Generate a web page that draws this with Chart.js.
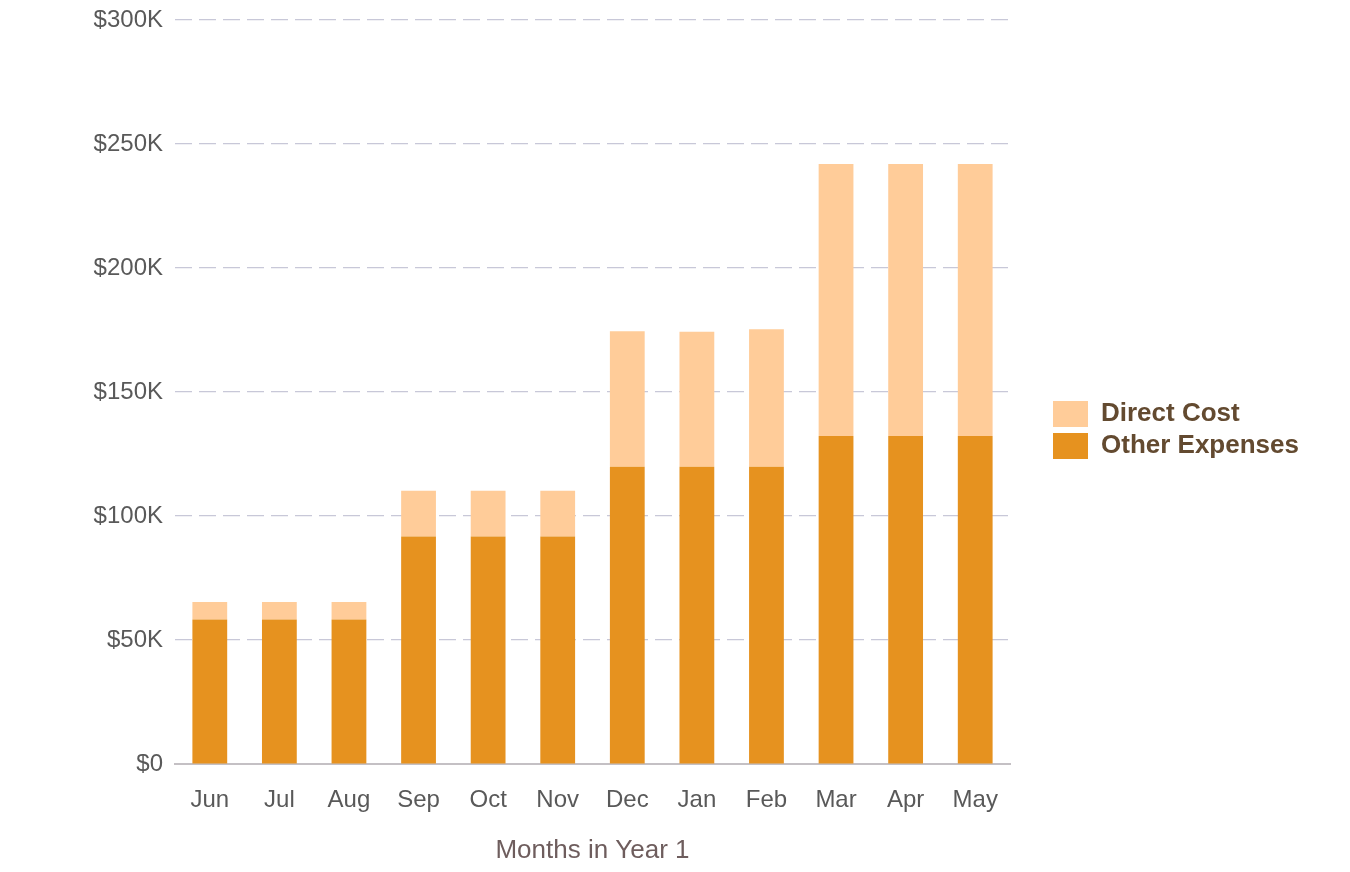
<!DOCTYPE html>
<html>
<head>
<meta charset="utf-8">
<script src="https://cdn.jsdelivr.net/npm/chart.js@4.4.1/dist/chart.umd.min.js"></script>
<style>
  html, body { margin: 0; padding: 0; background: #ffffff; }
  #wrap { width: 1350px; height: 872px; position: relative; }
</style>
</head>
<body>
<div id="wrap"><canvas id="c" width="1350" height="872"></canvas></div>
<script>
const months = ['Jun', 'Jul', 'Aug', 'Sep', 'Oct', 'Nov', 'Dec', 'Jan', 'Feb', 'Mar', 'Apr', 'May'];
const otherExpenses = [58300, 58300, 58300, 91700, 91700, 91700, 119900, 119900, 119900, 132300, 132300, 132300];
const directCost = [7000, 7000, 7000, 18500, 18500, 18500, 54600, 54400, 55400, 109600, 109600, 109600];
const yTickValues = [0, 50000, 100000, 150000, 200000, 250000, 300000];
const xAxisTitle = 'Months in Year 1';

const legendPlacement = {
  id: 'legendPlacement',
  beforeLayout(chart) {
    const l = chart.legend;
    if (l && !l._patched) {
      const orig = l.fit.bind(l);
      l.fit = function () { orig(); this.width = 340; };
      l._patched = true;
    }
  },
  afterLayout(chart) {
    const l = chart.legend;
    if (!l) return;
    l.left += 37; l.right += 37;
    l.top -= 16; l.bottom -= 16;
  }
};

new Chart(document.getElementById('c'), {
  type: 'bar',
  data: {
    labels: months,
    datasets: [
      { label: 'Other Expenses', data: otherExpenses, backgroundColor: '#e6921f', borderWidth: 0 },
      { label: 'Direct Cost', data: directCost, backgroundColor: '#ffcc99', borderWidth: 0 }
    ]
  },
  plugins: [legendPlacement],
  options: {
    responsive: false,
    animation: false,
    layout: { padding: { left: 0, right: 0, top: 20, bottom: 0 } },
    datasets: { bar: { barPercentage: 0.5, categoryPercentage: 1.0 } },
    plugins: {
      tooltip: { enabled: false },
      legend: {
        position: 'right',
        reverse: true,
        labels: {
          boxWidth: 35, boxHeight: 26, padding: 6,
          color: '#634a30',
          font: { family: '"Liberation Sans", Arial, sans-serif', size: 26, weight: 'bold' }
        }
      }
    },
    scales: {
      x: {
        stacked: true,
        grid: { display: false, drawTicks: false },
        border: { display: true, color: '#c4c0c4', width: 2 },
        ticks: {
          color: '#595959', padding: 22,
          font: { family: '"Liberation Sans", Arial, sans-serif', size: 24 }
        },
        title: {
          display: true, text: xAxisTitle, color: '#6e5d5d',
          font: { family: '"Liberation Sans", Arial, sans-serif', size: 26 },
          padding: { top: 4, bottom: 6 }
        },
        afterFit(scale) { scale.height = 108; scale.paddingLeft = 0; scale.paddingRight = 0; }
      },
      y: {
        stacked: true,
        min: 0, max: 300000,
        afterBuildTicks(scale) { scale.ticks = yTickValues.map(v => ({ value: v })); },
        grid: { color: '#c8c8d8', lineWidth: 1.2, drawTicks: false },
        border: { display: false, dash: [17, 7] },
        ticks: {
          color: '#595959', padding: 12,
          font: { family: '"Liberation Sans", Arial, sans-serif', size: 24 },
          callback: (v) => v === 0 ? '$0' : '$' + (v / 1000) + 'K'
        },
        afterFit(scale) { scale.width = 175; scale.paddingTop = 0; scale.paddingBottom = 0; }
      }
    }
  }
});
</script>
</body>
</html>
